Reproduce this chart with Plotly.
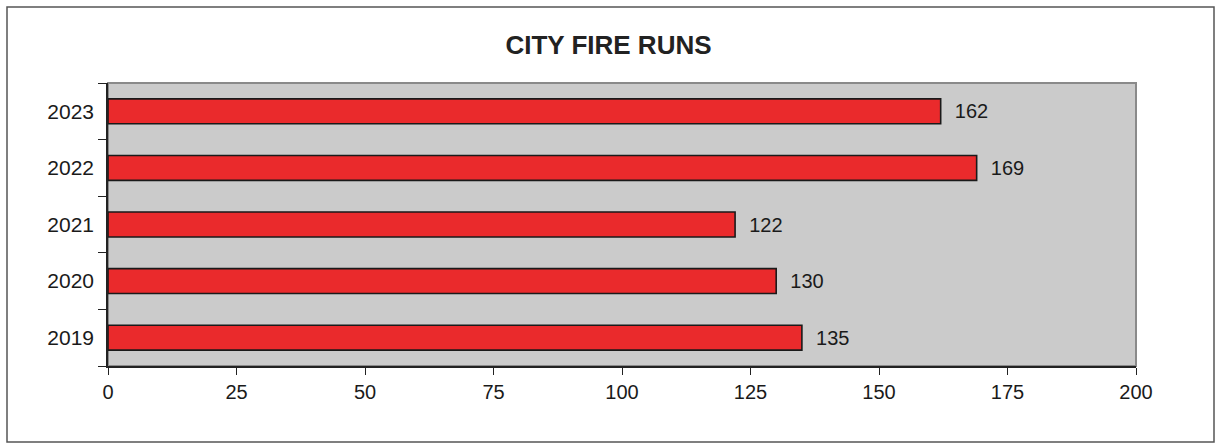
import plotly.graph_objects as go

years = ["2019", "2020", "2021", "2022", "2023"]
runs = [135, 130, 122, 169, 162]
x_ticks = [0, 25, 50, 75, 100, 125, 150, 175, 200]

W, H = 1217, 446
L, R, T, B = 108, 81, 83, 80
pw, ph = W - L - R, H - T - B

def px_x(p):
    return (p - L) / pw

def px_y(p):
    return (H - B - p) / ph

FONT = "Liberation Sans, Arial"

fig = go.Figure()
fig.add_trace(go.Bar(
    y=years, x=runs, orientation="h",
    marker=dict(color="#ea2a2c", line=dict(color="#1a1a1a", width=1.6)),
    texttemplate="  %{x}", textposition="outside", cliponaxis=False,
    textfont=dict(family=FONT, size=20, color="#1a1a1a"),
    width=0.44,
))

fig.update_layout(
    width=W, height=H,
    margin=dict(l=L, r=R, t=T, b=B),
    paper_bgcolor="white", plot_bgcolor="#cbcbcb",
    showlegend=False,
    title=dict(text="<b>CITY FIRE RUNS</b>", x=0.5, xanchor="center", y=1 - 45 / H, yanchor="middle",
               font=dict(family=FONT, size=26, color="#222222")),
    font=dict(family=FONT, size=20, color="#1a1a1a"),
    xaxis=dict(range=[0, 200], tickvals=x_ticks, showgrid=False, zeroline=False,
               showline=True, linecolor="#222222", linewidth=1.5,
               ticks="outside", ticklen=7, tickcolor="#222222", tickwidth=1.2,
               tickfont=dict(size=20), fixedrange=True),
    yaxis=dict(categoryorder="array", categoryarray=years, showgrid=False, zeroline=False,
               showline=True, linecolor="#222222", linewidth=1.5,
               ticks="outside", ticklen=8, tickcolor="#222222", tickwidth=1.2, tickson="boundaries",
               tickfont=dict(size=21), ticklabelstandoff=8, fixedrange=True),
    shapes=[
        dict(type="rect", xref="paper", yref="paper", x0=0, x1=1, y0=0, y1=1,
             line=dict(color="#8a8a8a", width=2), layer="below"),
        dict(type="rect", xref="paper", yref="paper",
             x0=px_x(7), x1=px_x(1214), y0=px_y(442), y1=px_y(7),
             line=dict(color="#555555", width=1.5)),
    ],
)

fig.write_html("out.html", config={"displayModeBar": False},
               post_script="document.body.style.margin='0';document.body.style.overflow='hidden';")
